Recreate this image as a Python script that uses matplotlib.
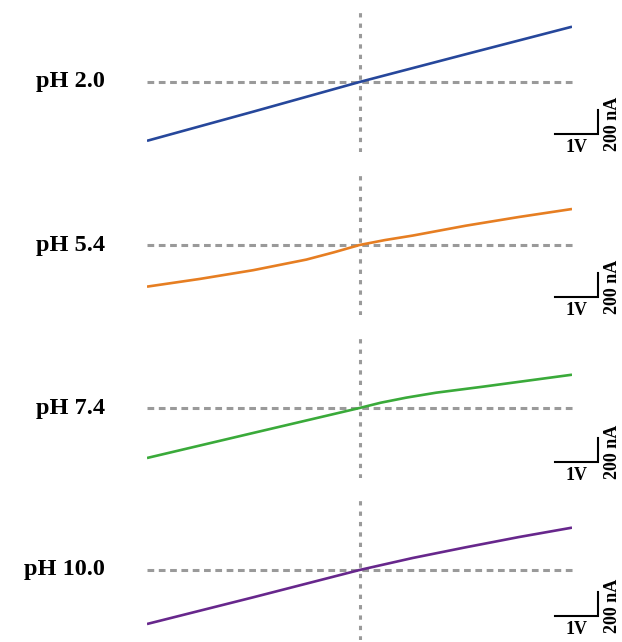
import numpy as np
import matplotlib
matplotlib.use("Agg")
import matplotlib.pyplot as plt

# I-V curves at four pH values (voltage in V, current in nA)
labels = ["pH 2.0", "pH 5.4", "pH 7.4", "pH 10.0"]
colors = ["#26479b", "#e67e22", "#3aaa3a", "#67278c"]

v_ph2 = [-5.0, -2.5, 0.0, 2.5, 5.0]
i_ph2 = [-500, -252, 0, 236, 470]

v_ph54 = [-5.0, -3.75, -2.5, -1.25, -0.6, 0.0, 0.6, 1.25, 2.5, 3.75, 5.0]
i_ph54 = [-354, -288, -214, -124, -62, 0, 42, 80, 164, 238, 306]

v_ph74 = [-5.0, -2.5, 0.0, 0.5, 1.1, 1.8, 2.9, 5.0]
i_ph74 = [-425, -212, 0, 45, 88, 130, 181, 283]

v_ph10 = [-5.0, -2.5, 0.0, 1.25, 2.5, 3.75, 5.0]
i_ph10 = [-459, -232, 0, 102, 193, 280, 360]

curves = [(v_ph2, i_ph2), (v_ph54, i_ph54), (v_ph74, i_ph74), (v_ph10, i_ph10)]

# scale bar sizes
bar_v = 1.0    # V
bar_i = 200.0  # nA

W, H = 622, 642
centers = [82, 245, 408, 570]   # panel centres, px from top
bar_drop = [52, 52, 54, 46]     # scale bar bottom below centre, px
half = 70                       # half panel height, px
x0, x1 = 147, 572               # data area, px
nA_per_px = 1190 / (2 * half)

fig = plt.figure(figsize=(W / 100, H / 100), dpi=100)
font = dict(family="Liberation Serif", weight="bold")

for (v, cur), lab, col, c, drop in zip(curves, labels, colors, centers, bar_drop):
    ax = fig.add_axes([x0 / W, (H - c - half) / H, (x1 - x0) / W, 2 * half / H])
    ax.set_xlim(-5.0, 5.0)
    ax.set_ylim(-595, 595)
    ax.axis("off")

    ax.plot([-5.0, 5.07], [0, 0], color="#9a9a9a", lw=2.2,
            ls=(0, (2.2, 1.5)), dash_capstyle="butt", clip_on=False)
    ax.axvline(0, color="#9a9a9a", lw=2.2, ls=(0, (1.4, 2.0)),
               dash_capstyle="butt")
    ax.plot(v, cur, color=col, lw=1.9, solid_capstyle="butt",
            solid_joinstyle="round")

    # scale bar
    bx, by = 4.6, -drop * nA_per_px
    ax.plot([bx, bx + bar_v, bx + bar_v], [by, by, by + bar_i],
            color="black", lw=1.5, clip_on=False, solid_joinstyle="miter")
    ax.text(bx + bar_v / 2, by - 40, "1V", ha="center", va="top",
            fontsize=13, **font)
    ax.text(bx + bar_v + 0.36, by + 90, "200 nA", rotation=90,
            ha="center", va="center", fontsize=13, **font)

    ax.text(-0.099, 0.5, lab, transform=ax.transAxes, ha="right",
            va="center", fontsize=17.5, **font)

fig.savefig("out.png", dpi=100)
